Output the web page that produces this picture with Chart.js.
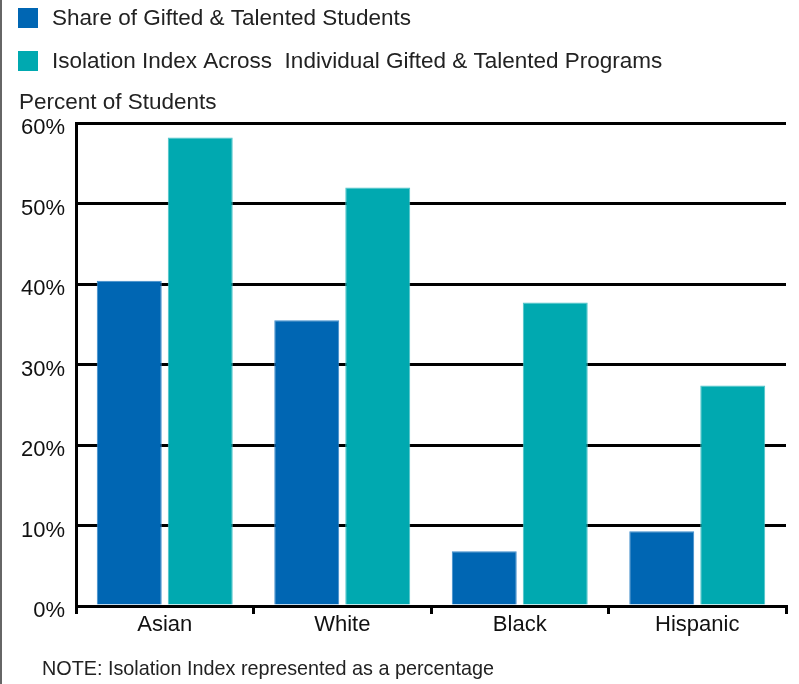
<!DOCTYPE html>
<html>
<head>
<meta charset="utf-8">
<script src="https://cdn.jsdelivr.net/npm/chart.js@4.4.0/dist/chart.umd.min.js"></script>
<style>
  html, body { margin: 0; padding: 0; background: #fff; }
  #wrap { width: 799px; height: 684px; }
</style>
</head>
<body>
<div id="wrap"><canvas id="myChart" width="799" height="684"></canvas></div>
<script>
// Chart data
const categories = ['Asian', 'White', 'Black', 'Hispanic'];
const shareGifted = [40.4, 35.5, 6.8, 9.3];
const isolationIndex = [58.2, 52.0, 37.7, 27.4];
const seriesNames = ['Share of Gifted & Talented Students', 'Isolation Index Across  Individual Gifted & Talented Programs'];
const yTicks = [0, 10, 20, 30, 40, 50, 60];

const FONT = '"Liberation Sans", Arial, sans-serif';
const blue = '#0066b3';
const teal = '#00a9b0';

// Draws the legend, y title, note and page border
const extrasPlugin = {
    id: 'extras',
    afterDraw(chart) {
        const ctx = chart.ctx;
        ctx.save();

        // left border of the page
        ctx.strokeStyle = '#666';
        ctx.lineWidth = 2;
        ctx.beginPath();
        ctx.moveTo(1, 0);
        ctx.lineTo(1, chart.height);
        ctx.stroke();

        // legend
        ctx.font = '22.5px ' + FONT;
        ctx.textBaseline = 'middle';
        ctx.textAlign = 'left';
        chart.data.datasets.forEach((ds, i) => {
            const y = 18 + i * 43;
            ctx.fillStyle = ds.backgroundColor;
            ctx.fillRect(18, y - 10, 20, 20);
            ctx.fillStyle = '#222';
            ctx.fillText(ds.label, 52, y + 1);
        });

        // y axis title
        ctx.fillText('Percent of Students', 19, 103);

        // note
        ctx.font = '19.8px ' + FONT;
        ctx.fillText('NOTE: Isolation Index represented as a percentage', 42, 670);

        ctx.restore();
    }
};

const ctx = document.getElementById('myChart').getContext('2d');
const chart = new Chart(ctx, {
    type: 'bar',
    data: {
        labels: categories,
        datasets: [
            {
                label: seriesNames[0],
                data: shareGifted,
                backgroundColor: blue,
                borderColor: '#3d8ccc',
                borderWidth: 1,
                categoryPercentage: 0.8,
                barPercentage: 0.915,
            },
            {
                label: seriesNames[1],
                data: isolationIndex,
                backgroundColor: teal,
                borderColor: '#4cc4c9',
                borderWidth: 1,
                categoryPercentage: 0.8,
                barPercentage: 0.915,
            },
        ],
    },
    options: {
        responsive: false,
        animation: false,
        layout: { padding: { left: 0, right: 13, top: 123, bottom: 38 } },
        plugins: {
            legend: { display: false },
            tooltip: { enabled: false },
        },
        scales: {
            x: {
                grid: {
                    offset: true,
                    drawOnChartArea: false,
                    drawTicks: true,
                    tickLength: 8,
                    color: '#000',
                    lineWidth: 3,
                },
                border: { color: '#000', width: 3 },
                ticks: {
                    color: '#111',
                    font: { family: FONT, size: 22 },
                    padding: -2,
                },
                afterFit: s => { s.height = 40; },
            },
            y: {
                min: 0,
                max: 60,
                afterBuildTicks: s => { s.ticks = yTicks.map(v => ({ value: v })); },
                grid: {
                    color: '#000',
                    lineWidth: 3,
                    drawTicks: false,
                },
                border: { color: '#000', width: 3 },
                ticks: {
                    color: '#111',
                    font: { family: FONT, size: 22 },
                    padding: 11,
                    labelOffset: 5,
                    callback: v => v + '%',
                },
                afterFit: s => { s.width = 76; },
            },
        },
    },
    plugins: [extrasPlugin],
});
</script>
</body>
</html>
